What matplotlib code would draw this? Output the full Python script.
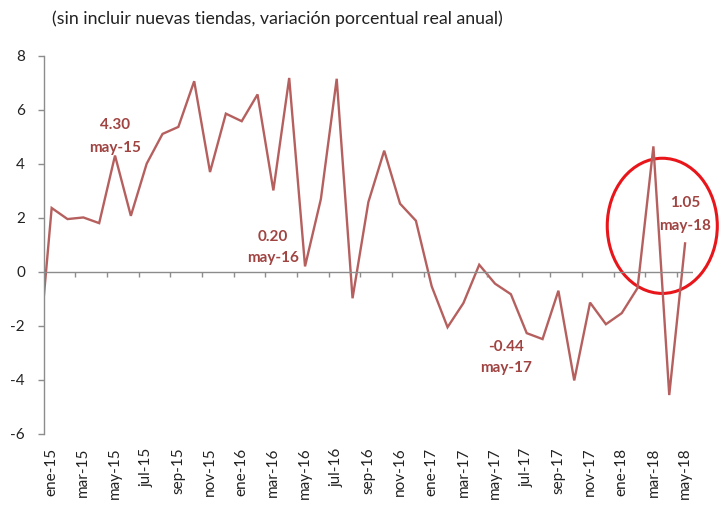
import matplotlib
matplotlib.use("Agg")
import matplotlib.pyplot as plt
from matplotlib.patches import Ellipse

plt.rcParams['font.family'] = ['Lato', 'DejaVu Sans']
plt.rcParams['axes.unicode_minus'] = False

# monthly series, dic-14 only feeds the segment entering the plot area
months = ['dic-14',
          'ene-15', 'feb-15', 'mar-15', 'abr-15', 'may-15', 'jun-15',
          'jul-15', 'ago-15', 'sep-15', 'oct-15', 'nov-15', 'dic-15',
          'ene-16', 'feb-16', 'mar-16', 'abr-16', 'may-16', 'jun-16',
          'jul-16', 'ago-16', 'sep-16', 'oct-16', 'nov-16', 'dic-16',
          'ene-17', 'feb-17', 'mar-17', 'abr-17', 'may-17', 'jun-17',
          'jul-17', 'ago-17', 'sep-17', 'oct-17', 'nov-17', 'dic-17',
          'ene-18', 'feb-18', 'mar-18', 'abr-18', 'may-18']
values = [-4.25,
          2.36, 1.95, 2.01, 1.80, 4.30, 2.07,
          4.00, 5.10, 5.36, 7.05, 3.69, 5.85,
          5.57, 6.56, 3.01, 7.17, 0.20, 2.69,
          7.14, -0.98, 2.58, 4.48, 2.52, 1.89,
          -0.54, -2.05, -1.16, 0.26, -0.44, -0.83,
          -2.27, -2.49, -0.70, -4.02, -1.14, -1.94,
          -1.53, -0.60, 4.64, -4.56, 1.05]
callouts = ['may-15', 'may-16', 'may-17', 'may-18']
yticks = [-6, -4, -2, 0, 2, 4, 6, 8]

line_color = '#B5605E'
note_color = '#A04442'
gray = '#8C8C8C'

fig = plt.figure(figsize=(7.23, 5.08), dpi=100)
ax = fig.add_axes([0.0614, 0.1457, 0.8971, 0.7450])

x = list(range(len(months)))
ax.plot(x, values, color=line_color, lw=1.7, solid_joinstyle='miter')

ax.set_xlim(0.54, len(months) - 0.5)
ax.set_ylim(-6, 8)

# horizontal axis line at zero with ticks between every two months
ax.axhline(0, color=gray, lw=1)
bounds = [i + 0.5 for i in range(0, len(months) - 1, 2)]
ax.vlines(bounds, -0.19, 0, color=gray, lw=1)

# labels every other month, starting at ene-15
lab_pos = list(range(1, len(months), 2))
ax.set_xticks(lab_pos)
ax.set_xticklabels([months[i] for i in lab_pos], rotation=90, fontsize=11)
ax.tick_params(axis='x', length=0, pad=10, colors='#222222')

ax.set_yticks(yticks)
ax.tick_params(axis='y', direction='out', length=4, width=1, color=gray,
               pad=10, labelsize=11, labelcolor='#222222')

for s in ['top', 'right', 'bottom']:
    ax.spines[s].set_visible(False)
ax.spines['left'].set_color(gray)
ax.spines['left'].set_linewidth(1)

# value callouts
offsets = {'may-15': (0.0, 1.14, 0.29),
           'may-16': (-2.05, 1.10, 0.32),
           'may-17': (0.7, -2.33, -3.12),
           'may-18': (0.0, 1.51, 0.63)}
for m in callouts:
    i = months.index(m)
    dx, y1, y2 = offsets[m]
    ax.text(i + dx, values[i] + y1, f'{values[i]:.2f}', ha='center', va='center',
            color=note_color, fontsize=11, fontweight='bold')
    ax.text(i + dx, values[i] + y2, m, ha='center', va='center',
            color=note_color, fontsize=11, fontweight='bold')

ax.add_patch(Ellipse((39.56, 1.70), 6.95, 5.0, fill=False, edgecolor='#E8161B',
                     lw=2.2, clip_on=False))

fig.text(52 / 723, 1 - 19 / 508,
         '(sin incluir nuevas tiendas, variación porcentual real anual)',
         ha='left', va='center', fontsize=12.8, color='#222222')

fig.savefig('out.png', dpi=100)
